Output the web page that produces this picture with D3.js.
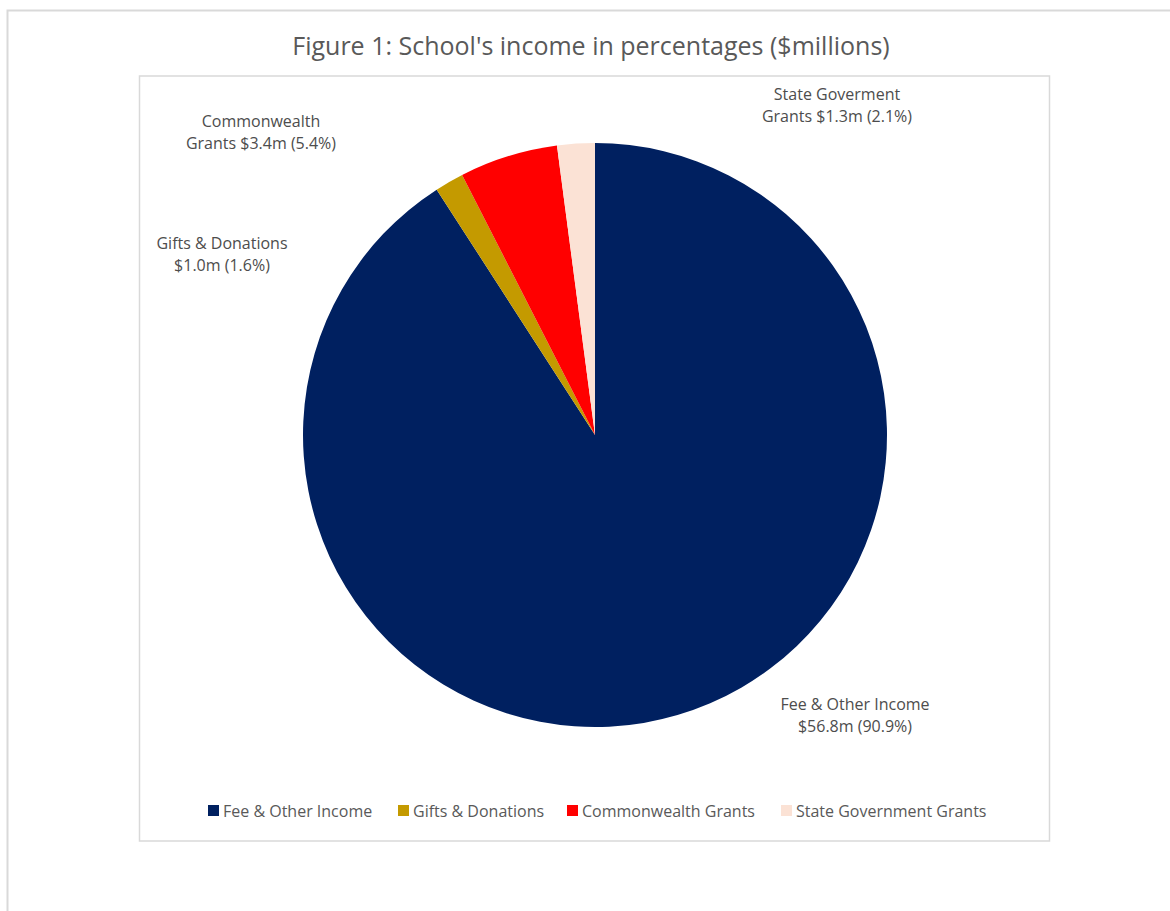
<!DOCTYPE html>
<html>
<head>
<meta charset="utf-8">
<script src="https://cdn.jsdelivr.net/npm/d3@7"></script>
<style>
  html, body { margin: 0; padding: 0; background: #ffffff; }
  svg { display: block; }
  text { font-family: "Open Sans", Lato, "Noto Sans", sans-serif; }
</style>
</head>
<body>
<svg id="chart" width="1170" height="911"></svg>
<script>
// Income sources, in $ millions
const categories = ["Fee & Other Income", "Gifts & Donations", "Commonwealth Grants", "State Government Grants"];
const values = [56.8, 1.0, 3.4, 1.3];
const percents = [90.9, 1.6, 5.4, 2.1];
const colors = ["#002060", "#C49A00", "#FF0000", "#FBE2D5"];
const labelLines = [
  ["Fee & Other Income", "$56.8m (90.9%)"],
  ["Gifts & Donations", "$1.0m (1.6%)"],
  ["Commonwealth", "Grants $3.4m (5.4%)"],
  ["State Goverment", "Grants $1.3m (2.1%)"]
];
const title = "Figure 1: School's income in percentages ($millions)";

const svg = d3.select("#chart");
const W = 1170, H = 911;

// Outer page frame (only top and left edges visible)
svg.append("rect").attr("x", 7.5).attr("y", 10.5).attr("width", W).attr("height", H)
  .attr("fill", "#ffffff").attr("stroke", "#d9d9d9").attr("stroke-width", 2);

// Chart area box
svg.append("rect").attr("x", 139.5).attr("y", 76).attr("width", 910).attr("height", 765)
  .attr("fill", "#ffffff").attr("stroke", "#d9d9d9").attr("stroke-width", 1.5);

// Title
svg.append("text").attr("x", 591).attr("y", 55).attr("text-anchor", "middle")
  .attr("font-size", 25).attr("fill", "#595959").text(title);

// Pie
const cx = 595, cy = 435, R = 292;
const pie = d3.pie().sort(null).value(d => d)(values);
const arc = d3.arc().innerRadius(0).outerRadius(R);
const g = svg.append("g").attr("transform", `translate(${cx},${cy})`);
g.selectAll("path").data(pie).join("path")
  .attr("d", arc)
  .attr("fill", (d, i) => colors[i]);

// Data labels positioned outside the pie
const labelPos = [
  [855, 710], [222, 249], [261, 127], [837, 100]
];
labelLines.forEach((lines, i) => {
  const t = svg.append("text").attr("text-anchor", "middle")
    .attr("font-size", 16).attr("fill", "#4d4d4d");
  lines.forEach((ln, j) => {
    t.append("tspan").attr("x", labelPos[i][0]).attr("y", labelPos[i][1] + j * 22).text(ln);
  });
});

// Legend
const legX = [208, 398, 567, 781];
const legY = 811;
categories.forEach((c, i) => {
  svg.append("rect").attr("x", legX[i]).attr("y", legY - 6).attr("width", 11).attr("height", 11)
    .attr("fill", colors[i]);
  svg.append("text").attr("x", legX[i] + 15).attr("y", legY + 5.5)
    .attr("font-size", 16).attr("fill", "#595959").text(c);
});
</script>
</body>
</html>
